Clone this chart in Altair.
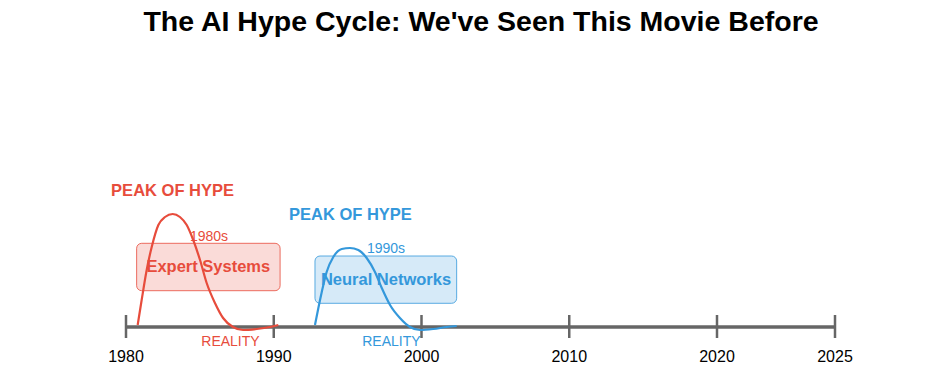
import altair as alt
import pandas as pd

RED = "#e74c3c"
BLUE = "#3498db"
GRAY = "#666666"
FONT = "Liberation Sans"

chart_title = "The AI Hype Cycle: We've Seen This Movie Before"

# axis ticks
tick_years = [1980, 1990, 2000, 2010, 2020, 2025]
tick_labels = ["1980", "1990", "2000", "2010", "2020", "2025"]

# eras
era_names = ["Expert Systems", "Neural Networks"]
era_decades = ["1980s", "1990s"]
era_colors = [RED, BLUE]

# hype curves (year, hype level above baseline)
red_years = [1980.79, 1981.06, 1981.40, 1981.74, 1982.19, 1982.64, 1983.16, 1983.65,
             1984.11, 1984.55, 1985.01, 1985.46, 1986.02, 1986.57, 1987.24, 1987.92,
             1988.85, 1989.75, 1990.31]
red_hype = [1, 26, 56, 79, 101, 109, 112, 109, 101, 86, 66, 43, 23, 8, -1, -4, -3, -1, 1]

blue_years = [1992.79, 1993.02, 1993.25, 1993.58, 1994.03, 1994.60, 1995.16, 1995.72,
              1996.29, 1996.85, 1997.31, 1997.87, 1998.54, 1999.22, 1999.90, 2000.80,
              2001.71, 2002.38]
blue_hype = [1, 18, 34, 54, 69, 77, 78, 76, 68, 54, 38, 21, 8, -1, -4, -3, -1, 0]

# label boxes
box_x0 = [1980.72, 1992.79]
box_x1 = [1990.43, 2002.38]
box_y0 = [35.3, 22.7]
box_y1 = [82.7, 70.0]

# annotation positions
name_x = [1985.57, 1997.60]
name_y = [59.0, 46.5]
decade_x = [1985.62, 1997.60]
decade_y = [89.3, 77.3]
peak_x = [1983.15, 1995.19]
peak_y = [135.0, 111.3]
reality_x = [1987.07, 1997.96]
reality_y = [-16.0, -16.0]

axis_level = -1
tick_top = 11
tick_bottom = -12
tick_label_y = -31

curves = pd.DataFrame(
    {"year": red_years + blue_years,
     "hype": red_hype + blue_hype,
     "era": [era_names[0]] * len(red_years) + [era_names[1]] * len(blue_years)}
)
eras = pd.DataFrame({
    "era": era_names, "decade": era_decades,
    "x0": box_x0, "x1": box_x1, "y0": box_y0, "y1": box_y1,
    "nx": name_x, "ny": name_y, "dx": decade_x, "dy": decade_y,
    "px": peak_x, "py": peak_y, "rx": reality_x, "ry": reality_y,
    "peak": ["PEAK OF HYPE"] * 2, "reality": ["REALITY"] * 2,
})
ticks = pd.DataFrame({"year": tick_years, "label": tick_labels,
                      "top": [tick_top] * len(tick_years),
                      "bottom": [tick_bottom] * len(tick_years),
                      "ly": [tick_label_y] * len(tick_years)})
axis_df = pd.DataFrame({"x0": [tick_years[0]], "x1": [tick_years[-1]], "y": [axis_level]})

xs = alt.Scale(domain=[1980, 2020, 2025], range=[118, 709, 827], nice=False, zero=False)
ys = alt.Scale(domain=[-52, 278], nice=False, zero=False)
cs = alt.Scale(domain=era_names, range=era_colors)
col = alt.Color("era:N", scale=cs, legend=None)

boxes = alt.Chart(eras).mark_rect(cornerRadius=5, fillOpacity=0.2, strokeWidth=1, strokeOpacity=0.8).encode(
    x=alt.X("x0:Q", scale=xs, axis=None), x2="x1:Q",
    y=alt.Y("y0:Q", scale=ys, axis=None), y2="y1:Q",
    fill=alt.Fill("era:N", scale=cs, legend=None),
    stroke=alt.Stroke("era:N", scale=cs, legend=None),
)

axis_line = alt.Chart(axis_df).mark_rule(color=GRAY, strokeWidth=3.5).encode(
    x=alt.X("x0:Q", scale=xs, axis=None), x2="x1:Q",
    y=alt.Y("y:Q", scale=ys, axis=None),
)
tick_marks = alt.Chart(ticks).mark_rule(color=GRAY, strokeWidth=2.5).encode(
    x=alt.X("year:Q", scale=xs, axis=None),
    y=alt.Y("top:Q", scale=ys, axis=None), y2="bottom:Q",
)
tick_text = alt.Chart(ticks).mark_text(font=FONT, fontSize=16, color="black", baseline="middle").encode(
    x=alt.X("year:Q", scale=xs, axis=None),
    y=alt.Y("ly:Q", scale=ys, axis=None),
    text="label:N",
)

lines = alt.Chart(curves).mark_line(interpolate="monotone", strokeWidth=2.2).encode(
    x=alt.X("year:Q", scale=xs, axis=None),
    y=alt.Y("hype:Q", scale=ys, axis=None),
    color=col,
)

names = alt.Chart(eras).mark_text(font=FONT, fontSize=16.5, fontWeight="bold", baseline="middle").encode(
    x=alt.X("nx:Q", scale=xs, axis=None), y=alt.Y("ny:Q", scale=ys, axis=None),
    text="era:N", color=col,
)
decades = alt.Chart(eras).mark_text(font=FONT, fontSize=14, baseline="middle").encode(
    x=alt.X("dx:Q", scale=xs, axis=None), y=alt.Y("dy:Q", scale=ys, axis=None),
    text="decade:N", color=col,
)
peaks = alt.Chart(eras).mark_text(font=FONT, fontSize=16.5, fontWeight="bold", baseline="middle").encode(
    x=alt.X("px:Q", scale=xs, axis=None), y=alt.Y("py:Q", scale=ys, axis=None),
    text="peak:N", color=col,
)
realities = alt.Chart(eras).mark_text(font=FONT, fontSize=14, baseline="middle").encode(
    x=alt.X("rx:Q", scale=xs, axis=None), y=alt.Y("ry:Q", scale=ys, axis=None),
    text="reality:N", color=col,
)

chart = alt.layer(
    boxes, axis_line, tick_marks, tick_text, lines, names, decades, peaks, realities
).properties(
    width=920, height=330,
    autosize=alt.AutoSizeParams(type="none"),
    padding={"left": 0, "right": 0, "top": 40, "bottom": 0},
    title=alt.TitleParams(chart_title, font=FONT, fontSize=28.5, fontWeight="bold",
                          anchor="middle", dx=13, offset=-11, baseline="alphabetic", color="black"),
).configure_view(stroke=None)

chart.save("out.html", embed_options={"renderer": "svg", "actions": False})
